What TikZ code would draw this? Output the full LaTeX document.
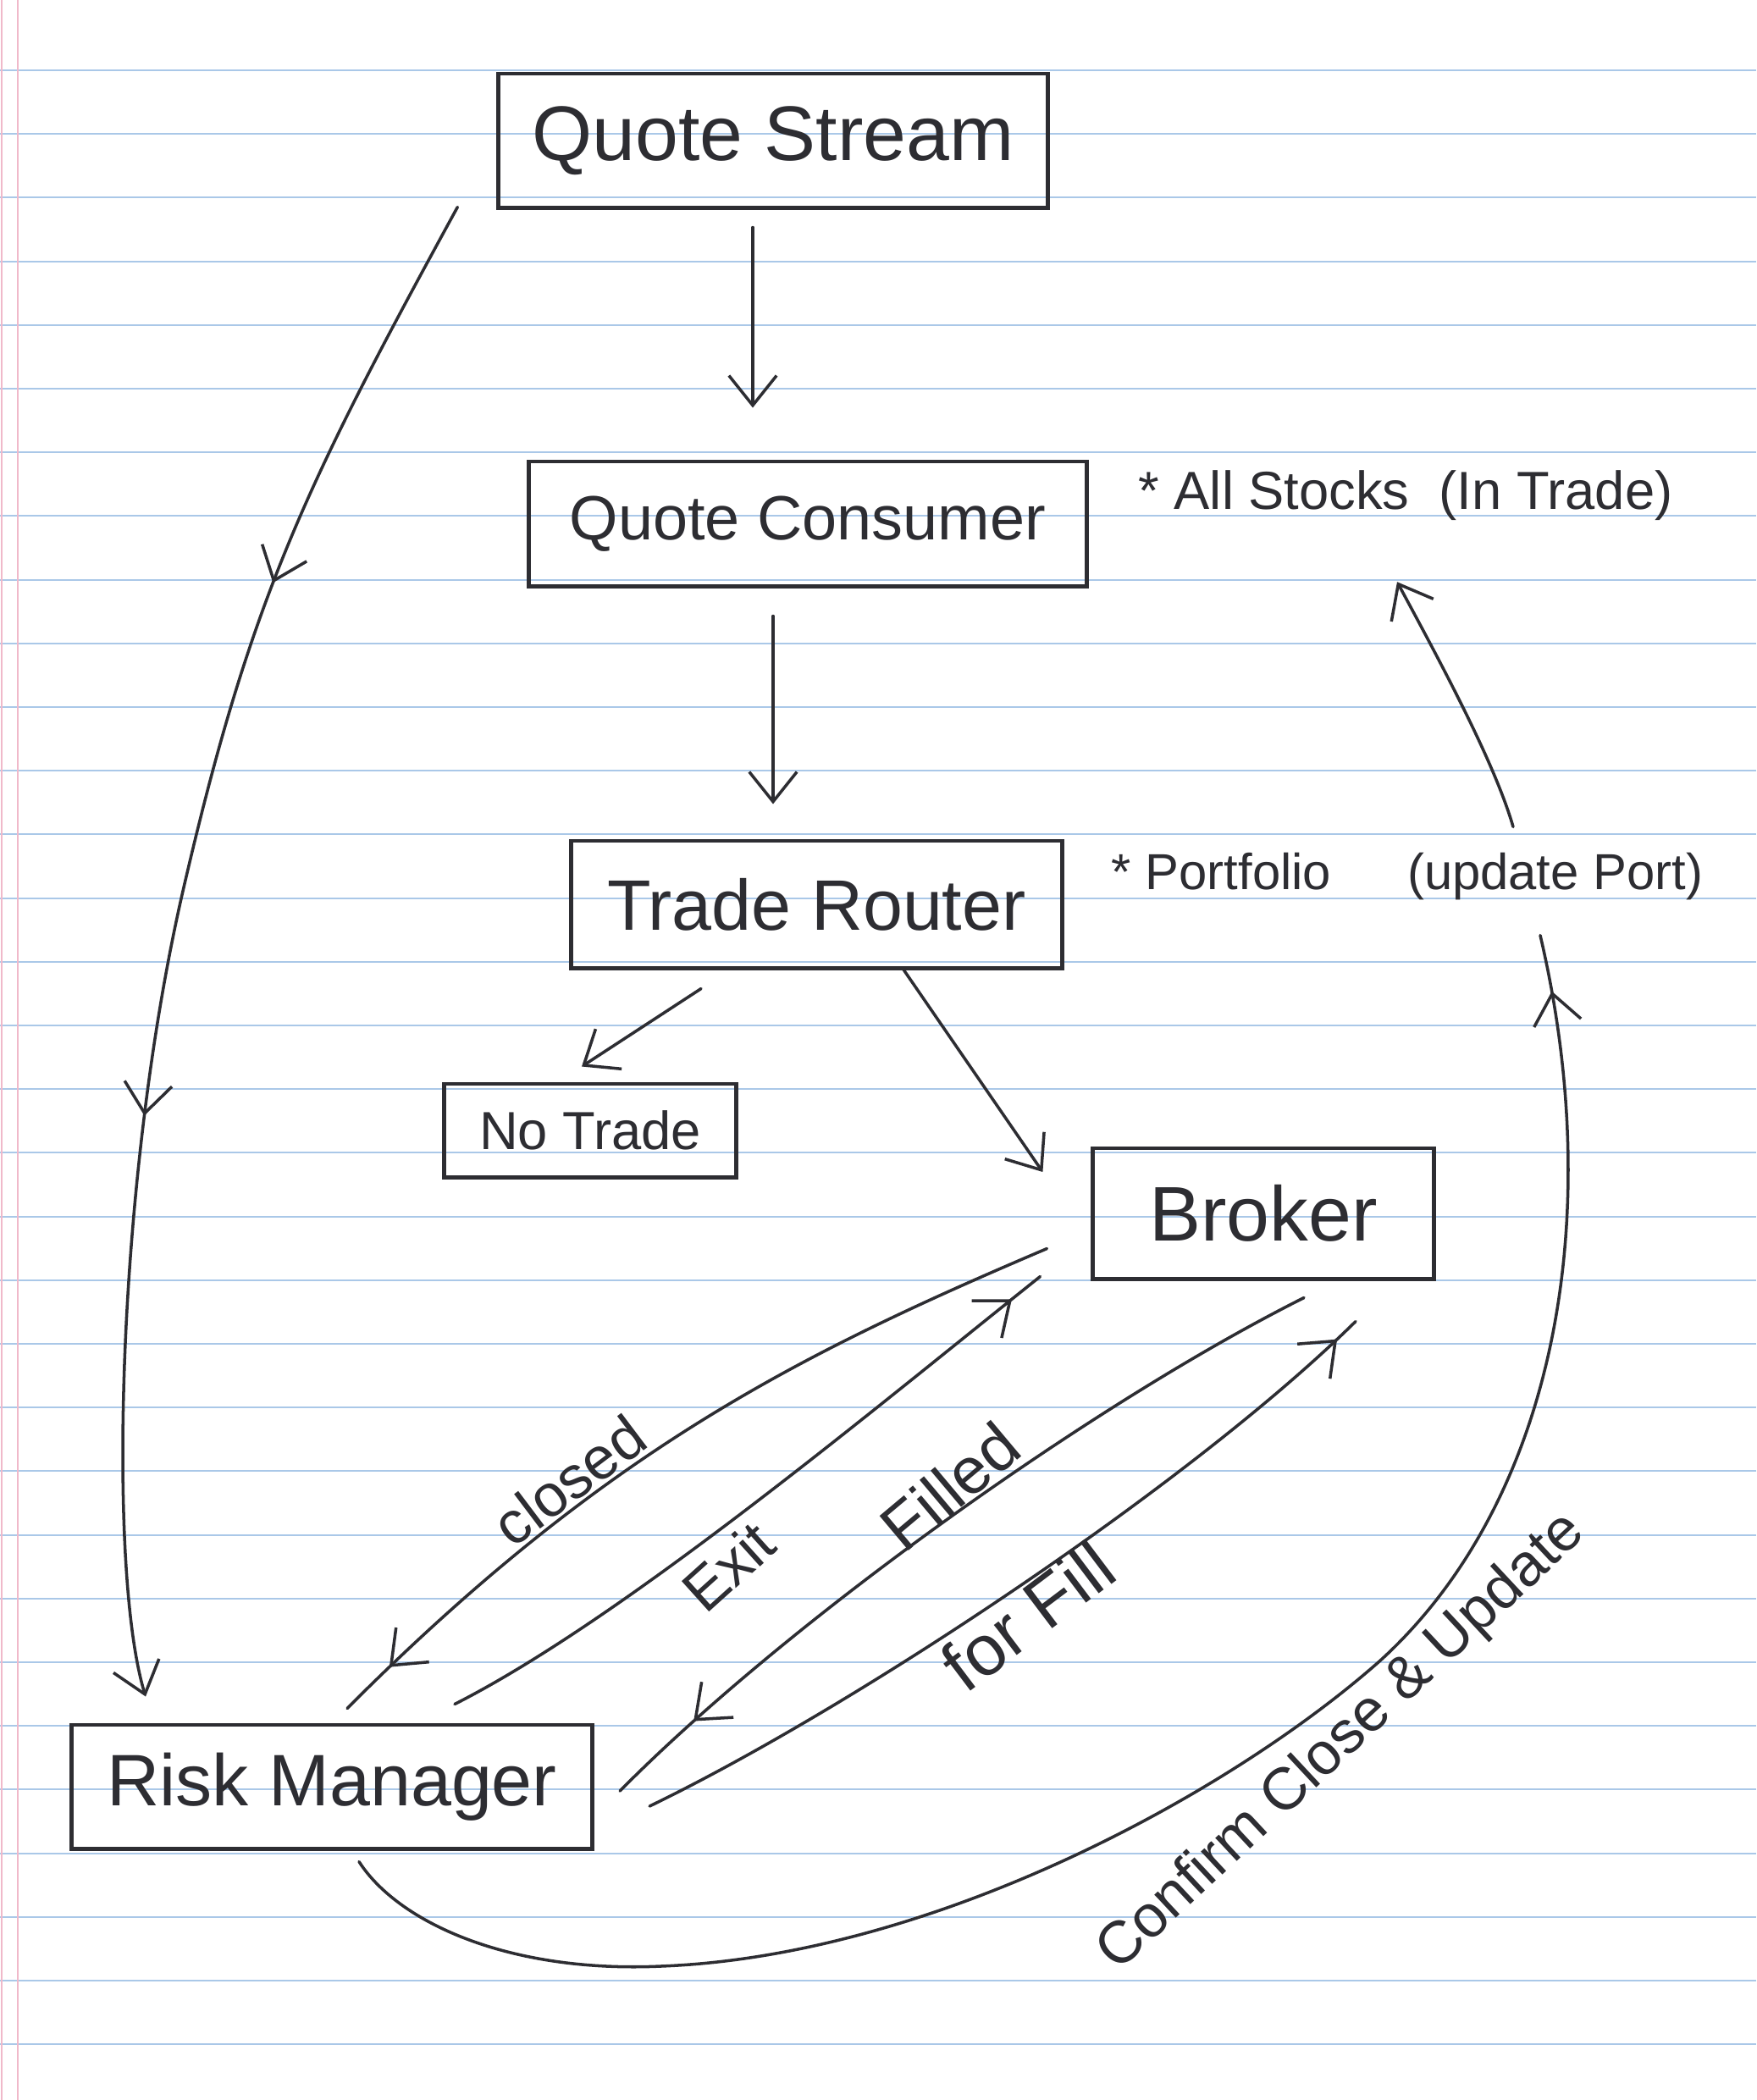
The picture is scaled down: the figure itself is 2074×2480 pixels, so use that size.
\documentclass[tikz,border=0pt]{standalone}
\usepackage{fontspec}
\setmainfont{Liberation Sans}
\usetikzlibrary{arrows.meta,calc,decorations.markings}
\definecolor{ink}{RGB}{45,45,50}
\definecolor{ruleblue}{RGB}{170,200,232}
\definecolor{marginpink}{RGB}{240,185,202}

\begin{document}
\begin{tikzpicture}[x=0.01cm,y=-0.01cm,
  box/.style={draw=ink,line width=1.4pt,text=ink,inner sep=0pt},
  note/.style={text=ink,inner sep=0pt},
  lbl/.style={text=ink,inner sep=0pt},
  tip/.style={-{Straight Barb[length=10pt,width=16pt]}},
  wire/.style={draw=ink,line width=1pt,line cap=round},
  midtip/.style={postaction={decorate,decoration={markings,
      mark=at position #1 with {\arrow{Straight Barb[length=10pt,width=16pt]}}}}},
]
% paper
\fill[white] (0,0) rectangle (2074,2480);
\useasboundingbox (0,0) rectangle (2074,2480);
\foreach \k in {0,...,31}
  \draw[ruleblue,line width=0.55pt] (0,{83+75.2*\k}) -- (2074,{83+75.2*\k});
\draw[marginpink,line width=0.6pt] (2,0) -- (2,2480);
\draw[marginpink,line width=0.6pt] (21,0) -- (21,2480);

% boxes
\node[box,minimum width=6.48cm,minimum height=1.58cm,font=\fontsize{26}{30}\selectfont] (qs) at (913,166) {Quote Stream};
\node[box,minimum width=6.58cm,minimum height=1.47cm,font=\fontsize{21}{25}\selectfont] (qc) at (954,618.5) {Quote Consumer};
\node[box,minimum width=5.79cm,minimum height=1.50cm,font=\fontsize{24}{28}\selectfont] (tr) at (964.5,1068) {Trade Router};
\node[box,minimum width=3.45cm,minimum height=1.10cm,font=\fontsize{18}{22}\selectfont] (nt) at (697,1335) {No Trade};
\node[box,minimum width=4.02cm,minimum height=1.54cm,font=\fontsize{26}{30}\selectfont] (br) at (1492,1433) {Broker};
\node[box,minimum width=6.15cm,minimum height=1.46cm,font=\fontsize{24.5}{29}\selectfont] (rm) at (392,2110) {Risk Manager};

% side notes
\node[note,font=\fontsize{18}{22}\selectfont] (stocks) at (1660,585) {* All Stocks\ \ (In Trade)};
\node[note,font=\fontsize{17}{21}\selectfont] (port) at (1662,1035) {* Portfolio\hspace{0.9cm}(update Port)};

% straight flow
\draw[wire,tip] ($(qs.south)+(-24,21)$) -- ($(qc.north)+(-65,-61)$);
\draw[wire,tip] ($(qc.south)+(-41,33)$) -- ($(tr.north)+(-51.5,-41)$);
\draw[wire,tip] ($(tr.south)+(-136.5,22)$) -- ($(nt.north)+(-10,-18)$);
\draw[wire,tip] ($(tr.south)+(101.5,-2)$) -- ($(br.west)+(-57,-49)$);

% quotes straight to the risk manager
\draw[wire,tip,midtip=0.27,midtip=0.624]
  ($(qs.south west)+(-46,-3)$) .. controls (363,569) and (297,703) .. (217,1048)
  .. controls (137,1393) and (127,1856) .. ($(rm.north)+(-220,-31)$);

% broker <-> risk manager
\draw[wire,midtip=0.93] ($(br.south west)+(-52,-38)$) .. controls (939,1601) and (712,1715) .. ($(rm.north)+(18,-17)$);
\draw[wire,midtip=0.95] ($(rm.north)+(145,-22)$) .. controls (737,1911) and (1031,1665) .. ($(br.south west)+(-60,-5)$);
\draw[wire,midtip=0.88] ($(br.south)+(48,20)$) .. controls (1290,1658) and (930,1915) .. ($(rm.east)+(30,5)$);
\draw[wire,midtip=0.97] ($(rm.east)+(65,23)$) .. controls (1015,2013) and (1411,1748) .. ($(br.south)+(109,48)$);

% confirmation loop back to the portfolio
\draw[wire,midtip=0.97] ($(rm.south)+(32,13)$) .. controls (470,2270) and (600,2330) .. (780,2322)
  .. controls (1100,2310) and (1450,2120) .. (1629,1962)
  .. controls (1830,1780) and (1900,1450) .. ($(port.south)+(157,41)$);
\draw[wire,tip] ($(port.north)+(125,-30)$) .. controls (1765,900) and (1700,780) .. ($(stocks.south)+(-10,72)$);

% edge labels
\node[lbl,rotate=37,font=\fontsize{20}{24}\selectfont] (lclosed) at (672,1748) {closed};
\node[lbl,rotate=42,font=\fontsize{20}{24}\selectfont] (lexit) at (860,1850) {Exit};
\node[lbl,rotate=40,font=\fontsize{22}{26}\selectfont] (lfilled) at (1122,1755) {Filled};
\node[lbl,rotate=37,font=\fontsize{24}{28}\selectfont] (lfor) at (1214,1908) {for Fill};
\node[lbl,rotate=43,font=\fontsize{20}{24}\selectfont] (lconfirm) at (1585,2058) {Confirm Close \& Update};
\end{tikzpicture}
\end{document}
